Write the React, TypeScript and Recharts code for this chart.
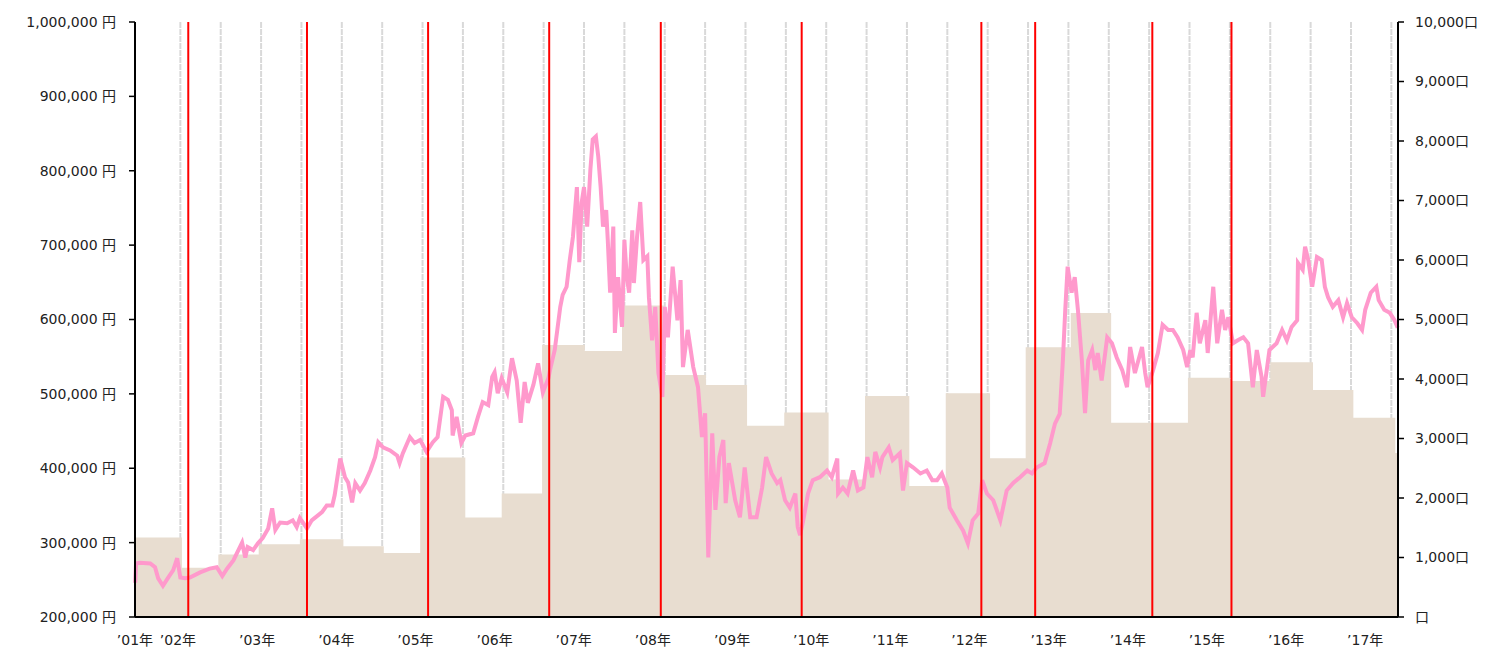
import { Area, CartesianGrid, ComposedChart, Line, ReferenceLine, XAxis, YAxis } from "recharts";

// price (yen), decimal-year dates
const priceDates = [
  2001.46, 2001.47, 2001.52, 2001.65, 2001.71, 2001.75, 2001.81, 2001.87, 2001.94, 2001.99,
  2002.03, 2002.09, 2002.15, 2002.28, 2002.4, 2002.49, 2002.56, 2002.62, 2002.7, 2002.81,
  2002.85, 2002.88, 2002.95, 2003.01, 2003.07, 2003.14, 2003.19, 2003.23, 2003.29, 2003.38,
  2003.45, 2003.5, 2003.54, 2003.63, 2003.69, 2003.82, 2003.88, 2003.95, 2003.98, 2004.05,
  2004.11, 2004.15, 2004.2, 2004.24, 2004.3, 2004.36, 2004.43, 2004.49, 2004.53, 2004.59,
  2004.68, 2004.77, 2004.8, 2004.84, 2004.93, 2004.99, 2005.06, 2005.14, 2005.22, 2005.28,
  2005.35, 2005.41, 2005.46, 2005.47, 2005.52, 2005.58, 2005.63, 2005.73, 2005.79, 2005.85,
  2005.92, 2005.97, 2006.0, 2006.04, 2006.09, 2006.16, 2006.22, 2006.28, 2006.33, 2006.38,
  2006.42, 2006.49, 2006.55, 2006.61, 2006.68, 2006.7, 2006.76, 2006.83, 2006.86, 2006.91,
  2006.95, 2006.99, 2007.04, 2007.07, 2007.1, 2007.13, 2007.17, 2007.21, 2007.24, 2007.28,
  2007.31, 2007.34, 2007.37, 2007.41, 2007.43, 2007.46, 2007.5, 2007.52, 2007.56, 2007.61,
  2007.64, 2007.67, 2007.7, 2007.74, 2007.76, 2007.8, 2007.84, 2007.88, 2007.93, 2007.95,
  2007.99, 2008.03, 2008.07, 2008.12, 2008.15, 2008.19, 2008.25, 2008.31, 2008.35, 2008.38,
  2008.44, 2008.51, 2008.57, 2008.62, 2008.66, 2008.7, 2008.75, 2008.79, 2008.84, 2008.89,
  2008.92, 2008.96, 2009.04, 2009.1, 2009.16, 2009.23, 2009.31, 2009.38, 2009.43, 2009.5,
  2009.57, 2009.61, 2009.67, 2009.73, 2009.8, 2009.83, 2009.86, 2009.9, 2009.96, 2010.02,
  2010.11, 2010.2, 2010.26, 2010.33, 2010.34, 2010.4, 2010.46, 2010.53, 2010.59, 2010.66,
  2010.71, 2010.77, 2010.81, 2010.87, 2010.9, 2010.98, 2011.03, 2011.12, 2011.16, 2011.21,
  2011.29, 2011.38, 2011.46, 2011.53, 2011.59, 2011.65, 2011.72, 2011.75, 2011.84, 2011.92,
  2011.98, 2012.04, 2012.11, 2012.16, 2012.22, 2012.3, 2012.39, 2012.47, 2012.55, 2012.64,
  2012.73, 2012.79, 2012.85, 2012.95, 2013.02, 2013.08, 2013.14, 2013.18, 2013.21, 2013.24,
  2013.29, 2013.33, 2013.37, 2013.42, 2013.46, 2013.5, 2013.55, 2013.59, 2013.62, 2013.67,
  2013.74, 2013.8, 2013.86, 2013.93, 2013.99, 2014.03, 2014.09, 2014.18, 2014.22, 2014.25,
  2014.32, 2014.38, 2014.44, 2014.51, 2014.57, 2014.63, 2014.7, 2014.75, 2014.79, 2014.82,
  2014.87, 2014.91, 2014.98, 2015.01, 2015.08, 2015.13, 2015.19, 2015.23, 2015.27, 2015.33,
  2015.39, 2015.46, 2015.52, 2015.58, 2015.63, 2015.69, 2015.71, 2015.79, 2015.88, 2015.95,
  2016.01, 2016.07, 2016.14, 2016.15, 2016.21, 2016.24, 2016.28, 2016.33, 2016.39, 2016.45,
  2016.49, 2016.53, 2016.59, 2016.66, 2016.72, 2016.77, 2016.83, 2016.9, 2016.96, 2017.0,
  2017.07, 2017.14, 2017.17, 2017.24, 2017.31, 2017.37, 2017.41,
];
const prices = [
  246000, 272000, 273000, 272000, 267000, 252000, 242000, 252000, 263000, 279000,
  253000, 252000, 253000, 260000, 265000, 267000, 255000, 265000, 276000, 300000,
  280000, 294000, 290000, 299000, 306000, 319000, 346000, 317000, 327000, 326000,
  330000, 321000, 333000, 319000, 330000, 341000, 350000, 350000, 364000, 413000,
  388000, 381000, 354000, 380000, 370000, 380000, 397000, 415000, 435000, 428000,
  424000, 417000, 407000, 420000, 442000, 434000, 438000, 422000, 435000, 442000,
  496000, 492000, 478000, 444000, 469000, 434000, 444000, 447000, 469000, 489000,
  485000, 523000, 529000, 501000, 521000, 502000, 548000, 518000, 461000, 516000,
  488000, 512000, 541000, 502000, 521000, 532000, 559000, 617000, 633000, 644000,
  680000, 711000, 778000, 677000, 757000, 778000, 725000, 801000, 842000, 846000,
  819000, 778000, 725000, 747000, 707000, 636000, 725000, 582000, 657000, 590000,
  707000, 657000, 636000, 720000, 649000, 711000, 758000, 680000, 685000, 630000,
  572000, 617000, 528000, 496000, 617000, 576000, 671000, 599000, 653000, 536000,
  586000, 536000, 509000, 442000, 474000, 280000, 447000, 344000, 415000, 438000,
  353000, 407000, 357000, 334000, 401000, 334000, 334000, 374000, 415000, 393000,
  380000, 384000, 357000, 347000, 366000, 321000, 310000, 330000, 366000, 384000,
  388000, 397000, 388000, 413000, 366000, 374000, 366000, 397000, 370000, 374000,
  415000, 388000, 422000, 401000, 415000, 428000, 411000, 420000, 370000, 407000,
  401000, 393000, 397000, 384000, 384000, 393000, 374000, 347000, 330000, 316000,
  299000, 330000, 339000, 384000, 366000, 357000, 330000, 370000, 380000, 388000,
  397000, 393000, 401000, 407000, 434000, 460000, 473000, 545000, 613000, 671000,
  636000, 657000, 613000, 545000, 474000, 545000, 559000, 532000, 555000, 518000,
  576000, 568000, 549000, 532000, 509000, 563000, 528000, 563000, 528000, 509000,
  532000, 555000, 593000, 586000, 586000, 576000, 559000, 536000, 559000, 549000,
  609000, 568000, 599000, 555000, 644000, 568000, 613000, 586000, 603000, 568000,
  572000, 576000, 568000, 509000, 559000, 523000, 496000, 559000, 568000, 586000,
  572000, 590000, 599000, 676000, 667000, 698000, 680000, 644000, 684000, 680000,
  644000, 630000, 617000, 626000, 603000, 622000, 603000, 595000, 586000, 613000,
  636000, 644000, 626000, 613000, 609000, 599000, 589000,
];

// half-year unit counts (口), each holds until the next date
const unitDates = [
  2001.457, 2002.05, 2002.51, 2003.02, 2003.54, 2004.09, 2004.6, 2005.06, 2005.63, 2006.09,
  2006.6, 2007.14, 2007.61, 2008.14, 2008.67, 2009.19, 2009.66, 2010.22, 2010.68, 2011.24,
  2011.7, 2012.26, 2012.71, 2013.28, 2013.79, 2014.28, 2014.76, 2015.29, 2015.8, 2016.34,
  2016.85, 2017.38, 2017.414,
];
const units = [
  1335, 829, 1052, 1221, 1305, 1187, 1075, 2681, 1671, 2075,
  4572, 4471, 5234, 4067, 3898, 3213, 3439, 2310, 3713, 2203,
  3759, 2669, 4533, 5110, 3264, 3264, 4021, 3966, 4281, 3814,
  3348, 2758, 2758,
];

const halfYearLines = [
  2002.03, 2002.54, 2003.05, 2003.56, 2004.07, 2004.58, 2005.09, 2005.6, 2006.11, 2006.62,
  2007.13, 2007.64, 2008.15, 2008.66, 2009.17, 2009.68, 2010.19, 2010.7, 2011.21, 2011.72,
  2012.23, 2012.74, 2013.25, 2013.76, 2014.27, 2014.78, 2015.29, 2015.8, 2016.31, 2016.82,
  2017.33,
];
const eventDates = [2002.13, 2003.63, 2005.16, 2006.69, 2008.1, 2009.88, 2012.15, 2012.83, 2014.31, 2015.31];

const yearTicks = [
  2001.457, 2002, 2003, 2004, 2005, 2006, 2007, 2008, 2009, 2010, 2011, 2012, 2013, 2014, 2015,
  2016, 2017,
];
const priceTicks = [200000, 300000, 400000, 500000, 600000, 700000, 800000, 900000, 1000000];
const unitTicks = [0, 1000, 2000, 3000, 4000, 5000, 6000, 7000, 8000, 9000, 10000];

const xDomain = [unitDates[0], unitDates[unitDates.length - 1]];

const priceData = priceDates.map((t, i) => ({ t, price: prices[i] }));
const unitData = unitDates.map((t, i) => ({ t, units: units[i] }));

const font = { fontFamily: "'DejaVu Sans', 'Noto Sans CJK JP', sans-serif", fontSize: 14, fill: "#222" };
const axisLine = { stroke: "#000", strokeWidth: 2 };
const tickLine = { stroke: "#000", strokeWidth: 1.5 };

// the grid is drawn under the bars, so the half-year lines go through it
const halfYearGrid = (props: any) => {
  const s = props?.xAxis?.scale;
  if (typeof s === "function") return halfYearLines.map((t) => s(t));
  if (s && typeof s.map === "function") return halfYearLines.map((t) => s.map(t));
  const { left, width } = props.offset;
  return halfYearLines.map((t) => left + ((t - xDomain[0]) / (xDomain[1] - xDomain[0])) * width);
};

export default function App() {
  return (
    <div style={{ position: "absolute", left: 0, top: 0, background: "#fff" }}>
      <ComposedChart width={1496} height={648} margin={{ top: 22, right: 0, bottom: 0, left: 0 }}>
        <CartesianGrid
          horizontal={false}
          stroke="#d9d9d9"
          strokeWidth={2}
          strokeDasharray="6 1"
          verticalCoordinatesGenerator={halfYearGrid}
          yAxisId="price"
        />
        <XAxis
          dataKey="t"
          type="number"
          domain={xDomain}
          ticks={yearTicks}
          interval={0}
          height={31}
          axisLine={axisLine}
          tickLine={false}
          tickMargin={12}
          tick={font}
          tickFormatter={(v: number) => "’" + String(Math.round(v)).slice(2) + "年"}
        />
        <YAxis
          yAxisId="price"
          width={135}
          domain={[200000, 1000000]}
          ticks={priceTicks}
          axisLine={axisLine}
          tickLine={tickLine}
          tickSize={6}
          tickMargin={13}
          tick={font}
          tickFormatter={(v: number) => v.toLocaleString("en-US") + " 円"}
        />
        <YAxis
          yAxisId="units"
          orientation="right"
          width={98}
          domain={[0, 10000]}
          ticks={unitTicks}
          axisLine={axisLine}
          tickLine={tickLine}
          tickSize={6}
          tickMargin={11}
          tick={font}
          tickFormatter={(v: number) => (v === 0 ? "口" : v.toLocaleString("en-US") + "口")}
        />
        <Area
          data={unitData}
          yAxisId="units"
          dataKey="units"
          type="stepAfter"
          stroke="none"
          fill="#e8ddd0"
          fillOpacity={1}
          dot={false}
          activeDot={false}
          isAnimationActive={false}
        />
        <Line
          data={priceData}
          yAxisId="price"
          dataKey="price"
          type="linear"
          stroke="#ff99cc"
          strokeWidth={4}
          dot={false}
          activeDot={false}
          isAnimationActive={false}
        />
        {eventDates.map((t) => (
          <ReferenceLine key={"r" + t} x={t} yAxisId="price" stroke="#ff0000" strokeWidth={2} />
        ))}
      </ComposedChart>
    </div>
  );
}
